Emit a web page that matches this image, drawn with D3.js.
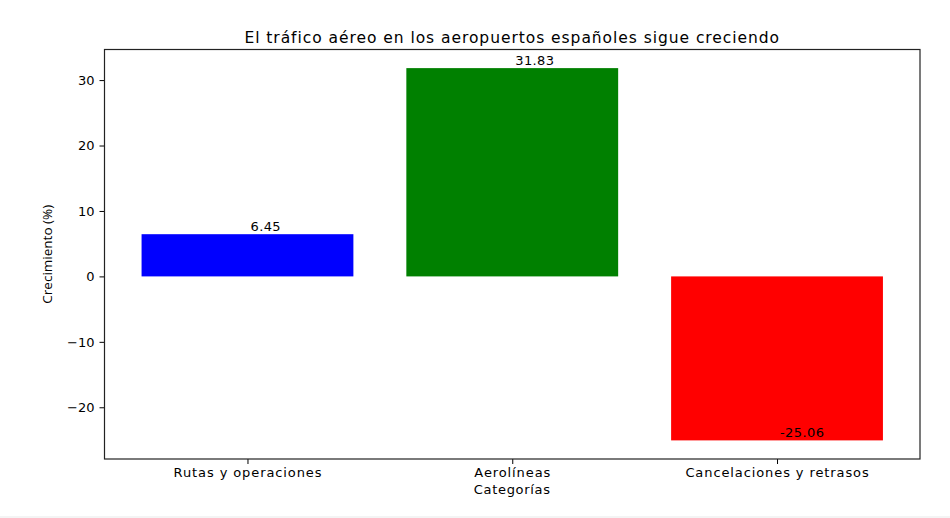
<!DOCTYPE html>
<html>
<head>
<meta charset="utf-8">
<script src="https://cdn.jsdelivr.net/npm/d3@7"></script>
<style>
  html, body { margin: 0; padding: 0; background: #ffffff; }
  svg { display: block; }
  text { font-family: "DejaVu Sans", sans-serif; fill: #000; }
</style>
</head>
<body>
<svg id="chart" width="950" height="518"></svg>
<script>
// ---- data ----
const categories = ["Rutas y operaciones", "Aerolíneas", "Cancelaciones y retrasos"];
const growthValues = [6.45, 31.83, -25.06];
const barColors = ["#0000ff", "#008000", "#ff0000"];
const yTickValues = [-20, -10, 0, 10, 20, 30];
const titleText = "El tráfico aéreo en los aeropuertos españoles sigue creciendo";
const xLabelText = "Categorías";
const yLabelText = "Crecimiento (%)";

// ---- layout ----
const W = 950, H = 518;
const plot = { left: 104.5, right: 920, top: 49.5, bottom: 459 };
const svg = d3.select("#chart");
svg.append("rect").attr("x", 0).attr("y", 0).attr("width", W).attr("height", H).attr("fill", "#fff");
svg.append("rect").attr("x", 0).attr("y", 516).attr("width", W).attr("height", 2).attr("fill", "#f4f4f4");

// matplotlib-like limits
const barW = 0.8;
const n = categories.length;
const xMinData = -barW / 2, xMaxData = (n - 1) + barW / 2;
const xPad = (xMaxData - xMinData) * 0.05;
const x = d3.scaleLinear().domain([xMinData - xPad, xMaxData + xPad]).range([plot.left, plot.right]);
const yMinData = Math.min(0, d3.min(growthValues)), yMaxData = Math.max(0, d3.max(growthValues));
const yPad = (yMaxData - yMinData) * 0.05;
const y = d3.scaleLinear().domain([yMinData - yPad, yMaxData + yPad]).range([plot.bottom, plot.top]);

// bars
svg.append("g").selectAll("rect").data(growthValues).join("rect")
  .attr("x", (d, i) => x(i - barW / 2))
  .attr("width", (d, i) => x(i + barW / 2) - x(i - barW / 2))
  .attr("y", d => y(Math.max(0, d)))
  .attr("height", d => Math.abs(y(d) - y(0)))
  .attr("fill", (d, i) => barColors[i]);

// value labels (va=bottom at bar end)
svg.append("g").selectAll("text").data(growthValues).join("text")
  .attr("x", (d, i) => x(i) + 3)
  .attr("y", d => y(d) - 3)
  .attr("text-anchor", "start")
  .style("font-size", "13px")
  .style("letter-spacing", "0.4px")
  .text(d => d.toFixed(2));

// axes
const yAxis = d3.axisLeft(y).tickValues(yTickValues).tickSize(5).tickPadding(5)
  .tickFormat(d => d < 0 ? "\u2212" + Math.abs(d) : String(d));
const gy = svg.append("g").attr("transform", `translate(${plot.left},0)`).call(yAxis);
gy.select(".domain").remove();
gy.selectAll("line").attr("stroke", "#000").attr("stroke-width", 1);
gy.selectAll("text").style("font-size", "13px").style("font-family", "DejaVu Sans");

const xAxis = d3.axisBottom(x).tickValues(d3.range(n)).tickSize(5).tickPadding(4)
  .tickFormat(i => categories[i]);
const gx = svg.append("g").attr("transform", `translate(0,${plot.bottom})`).call(xAxis);
gx.select(".domain").remove();
gx.selectAll("line").attr("stroke", "#000").attr("stroke-width", 1);
gx.selectAll("text").style("font-size", "13px").style("font-family", "DejaVu Sans")
  .style("letter-spacing", "0.9px");

// frame
svg.append("rect").attr("x", plot.left).attr("y", plot.top)
  .attr("width", plot.right - plot.left).attr("height", plot.bottom - plot.top)
  .attr("fill", "none").attr("stroke", "#222").attr("stroke-width", 1.2);

// title & labels
svg.append("text").attr("x", (plot.left + plot.right) / 2).attr("y", 42.7)
  .attr("text-anchor", "middle").style("font-size", "15.5px").style("letter-spacing", "0.95px").text(titleText);
svg.append("text").attr("x", (plot.left + plot.right) / 2).attr("y", 494)
  .attr("text-anchor", "middle").style("font-size", "13px").style("letter-spacing", "0.7px").text(xLabelText);
svg.append("text").attr("transform", `translate(52,${(plot.top + plot.bottom) / 2}) rotate(-90)`)
  .attr("text-anchor", "middle").style("font-family", "'Open Sans', sans-serif").style("font-size", "13.5px").text(yLabelText);
</script>
</body>
</html>
